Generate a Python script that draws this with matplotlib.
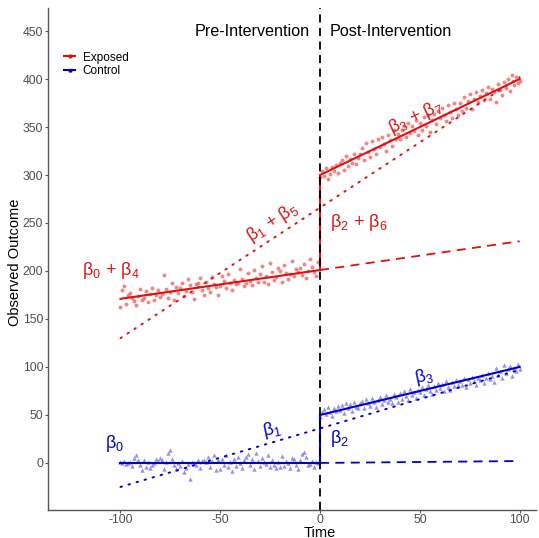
import numpy as np
import matplotlib
matplotlib.use("Agg")
import matplotlib.pyplot as plt

plt.rcParams["font.family"] = ["Liberation Sans", "DejaVu Sans"]
plt.rcParams["axes.unicode_minus"] = False
plt.rcParams["mathtext.fontset"] = "custom"
plt.rcParams["mathtext.rm"] = "Liberation Sans"
plt.rcParams["mathtext.it"] = "Liberation Sans"

# ======= Data =======
time_pre = np.arange(-100, 0)
time_post = np.arange(0, 101)

exposed_pre = [
    163, 180, 184, 166, 175, 177, 172, 169, 165, 174,
    181, 170, 172, 179, 168, 176, 182, 170, 175, 180,
    173, 176, 196, 181, 172, 178, 187, 170, 183, 177,
    182, 188, 174, 179, 192, 185, 178, 171, 186, 187,
    193, 180, 175, 189, 182, 178, 194, 186, 183, 175,
    184, 195, 190, 182, 197, 187, 180, 191, 186, 188,
    202, 192, 184, 188, 198, 190, 185, 201, 193, 189,
    197, 205, 189, 195, 186, 208, 199, 191, 194, 203,
    200, 189, 206, 198, 192, 197, 210, 195, 202, 199,
    203, 196, 207, 193, 200, 212, 204, 199, 195, 209,
]
exposed_post = [
    298, 304, 299, 307, 296, 301, 308, 304, 310, 302,
    312, 316, 305, 320, 309, 317, 313, 322, 311, 318,
    322, 328, 316, 333, 324, 319, 335, 327, 322, 337,
    329, 340, 332, 325, 342, 336, 330, 347, 337, 343,
    337, 347, 351, 340, 354, 344, 351, 346, 357, 342,
    354, 347, 360, 351, 362, 345, 357, 364, 353, 367,
    359, 370, 363, 356, 373, 366, 359, 375, 369, 363,
    375, 367, 381, 370, 377, 384, 369, 379, 387, 376,
    382, 389, 378, 385, 392, 379, 390, 386, 376, 395,
    389, 383, 397, 391, 400, 388, 404, 394, 402, 396,
    398,
]
control_pre = [
    1, 0, 2, -1, 0, 1, -3, 5, 8, 3,
    -2, -7, 3, -4, 1, -5, -2, 0, 4, 2,
    5, 3, -6, 1, 10, 14, 4, -2, -6, 0,
    -3, 2, -9, -5, -1, -17, 1, 0, -2, 3,
    -5, 2, 3, 1, 6, -4, 2, 8, -7, 3,
    -6, 4, -2, 8, -4, 1, -8, 4, -3, 6,
    0, -5, 3, 6, 9, -2, 4, -6, 10, 2,
    -3, 5, 1, -1, 8, -4, 3, -2, -5, 1,
    -4, 7, -3, 2, 0, -5, 5, 4, -2, -6,
    3, 9, 11, 6, -2, -1, 2, -4, 1, 0,
]
control_post = [
    48, 53, 56, 51, 58, 53, 49, 57, 54, 59,
    55, 60, 52, 62, 57, 61, 54, 64, 58, 57,
    62, 65, 57, 67, 62, 59, 68, 63, 58, 66,
    69, 61, 66, 71, 63, 67, 62, 72, 69, 64,
    73, 67, 75, 70, 66, 77, 71, 74, 68, 76,
    74, 79, 71, 77, 81, 75, 72, 80, 76, 83,
    78, 82, 75, 85, 79, 76, 84, 80, 86, 81,
    85, 81, 88, 79, 87, 83, 90, 85, 81, 89,
    86, 92, 83, 89, 94, 87, 91, 84, 99, 92,
    96, 88, 102, 94, 98, 101, 91, 99, 96, 103,
    98,
]

# fitted segments (endpoints)
fit_x_pre = [-100, 0]
fit_x_post = [0, 100]
fit_x_all = [-100, 100]
exp_fit_pre = [171, 201]
exp_fit_post = [300, 400]
exp_counterfactual = [201, 231]
exp_single = [130, 402]
ctl_fit_pre = [0, 0]
ctl_fit_post = [50, 100]
ctl_counterfactual = [0, 2]
ctl_single = [-25, 97]

RED = "#e01010"
BLUE = "#0000d0"

# ======= Plot =======
fig = plt.figure(figsize=(5.39, 5.38), dpi=100)
ax = fig.add_axes([48 / 539, 1 - 509.5 / 538, (536 - 48) / 539, (509.5 - 8) / 538])

ax.scatter(time_pre, exposed_pre, s=8, marker="o", color="#e86060", alpha=0.75, linewidths=0)
ax.scatter(time_post, exposed_post, s=8, marker="o", color="#e86060", alpha=0.75, linewidths=0)
ax.scatter(time_pre, control_pre, s=10, marker="^", color="#7070e8", alpha=0.75, linewidths=0)
ax.scatter(time_post, control_post, s=10, marker="^", color="#7070e8", alpha=0.75, linewidths=0)

for color, pre, post, cf, single in [
    (RED, exp_fit_pre, exp_fit_post, exp_counterfactual, exp_single),
    (BLUE, ctl_fit_pre, ctl_fit_post, ctl_counterfactual, ctl_single),
]:
    ax.plot(fit_x_pre, pre, color=color, lw=1.5)
    ax.plot([0, 0], [pre[1], post[0]], color=color, lw=1.5)
    ax.plot(fit_x_post, post, color=color, lw=1.5)
    ax.plot(fit_x_post, cf, color=color, lw=1.3, ls=(0, (5, 3.5)))
    ax.plot(fit_x_all, single, color=color, lw=1.4, ls=(0, (0.8, 3.5)), dash_capstyle="round")

ax.axvline(0, color="black", lw=1.3, ls=(0, (4.5, 3)))

# legend keys
ax.plot([], [], color=RED, lw=1.5, marker="o", ms=2, label="Exposed")
ax.plot([], [], color=BLUE, lw=1.5, marker="^", ms=2, label="Control")
h, l = ax.get_legend_handles_labels()
ax.legend(h[-2:], l[-2:], loc="upper left", bbox_to_anchor=(0.02, 0.925), frameon=False,
          fontsize=8.5, handlelength=1.0, handletextpad=0.6, labelspacing=0.1, borderpad=0)

# annotations
fs = 13
ax.text(-5, 450, "Pre-Intervention", ha="right", va="center", fontsize=11.6)
ax.text(5, 450, "Post-Intervention", ha="left", va="center", fontsize=11.6)
ax.text(-105, 200, "β$_0$ + β$_4$", color=RED, ha="center", va="center", fontsize=fs)
ax.text(-24, 250, "β$_1$ + β$_5$", color=RED, ha="center", va="center", fontsize=fs, rotation=33)
ax.text(5, 250, "β$_2$ + β$_6$", color=RED, ha="left", va="center", fontsize=fs)
ax.text(48, 360, "β$_3$ + β$_7$", color=RED, ha="center", va="center", fontsize=fs, rotation=25)
ax.text(-103, 20, "β$_0$", color=BLUE, ha="center", va="center", fontsize=fs)
ax.text(-24, 35, "β$_1$", color=BLUE, ha="center", va="center", fontsize=fs, rotation=12)
ax.text(5, 25, "β$_2$", color=BLUE, ha="left", va="center", fontsize=fs)
ax.text(52, 90, "β$_3$", color=BLUE, ha="center", va="center", fontsize=fs, rotation=12)

# axes styling (classic look)
ax.set_xlim(-136.3, 108.2)
ax.set_ylim(-48.5, 474)
ax.set_xticks([-100, -50, 0, 50, 100])
ax.set_yticks(range(0, 451, 50))
ax.spines["top"].set_visible(False)
ax.spines["right"].set_visible(False)
for s in ("left", "bottom"):
    ax.spines[s].set_color("#555555")
    ax.spines[s].set_linewidth(1.0)
ax.tick_params(colors="#555555", labelcolor="#4d4d4d", labelsize=8.8, length=2.5, width=0.8, pad=1)
fig.text(320 / 539, 1 - 533 / 538, "Time", ha="center", va="center", fontsize=10.5)
fig.text(15 / 539, 1 - 262 / 538, "Observed Outcome", ha="center", va="center", fontsize=10.5, rotation=90)

fig.savefig("out.png", dpi=100)
